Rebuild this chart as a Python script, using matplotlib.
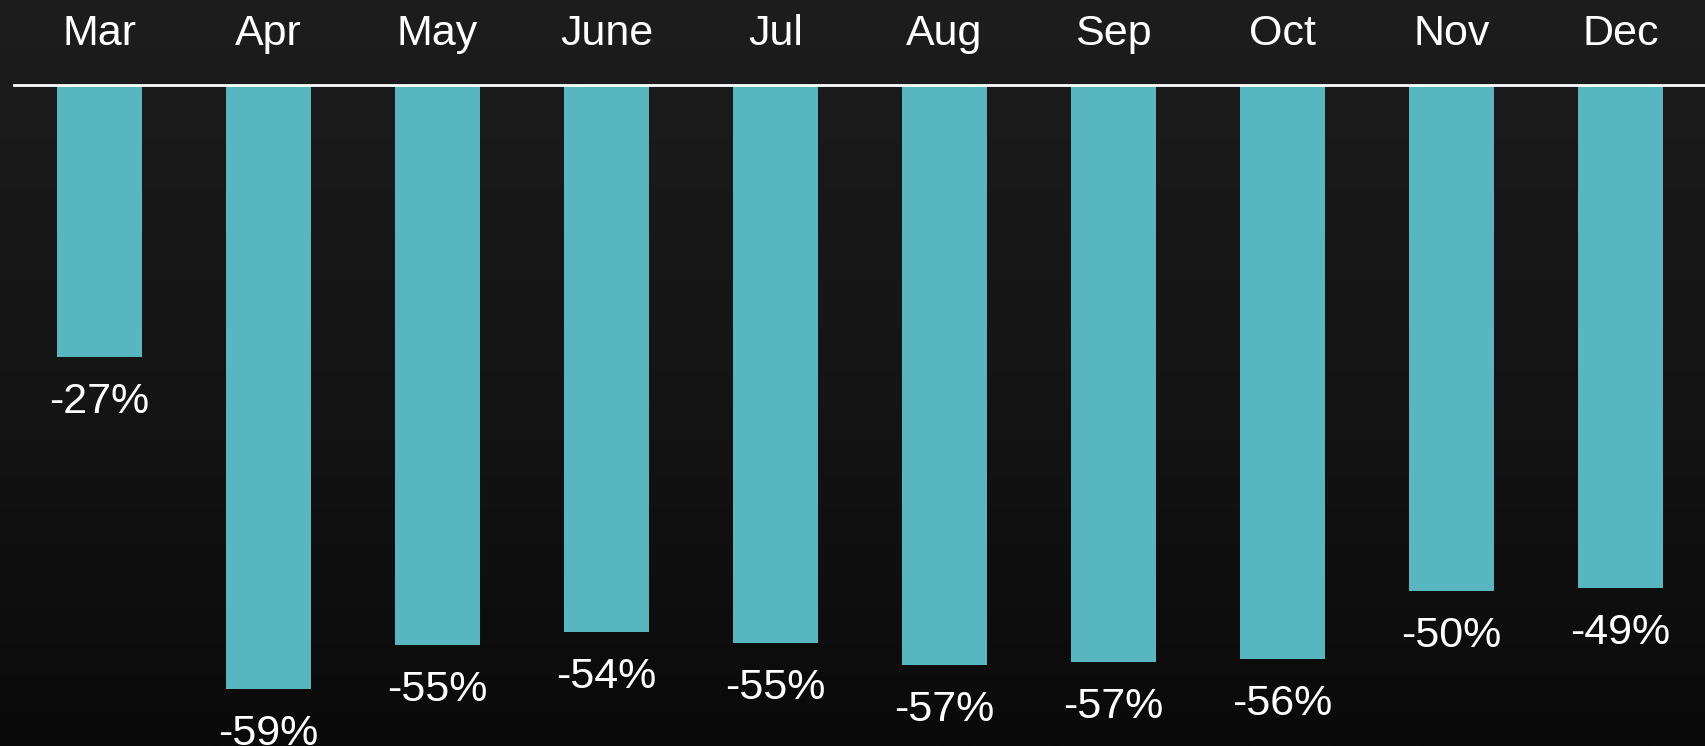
import numpy as np
import matplotlib
matplotlib.use('Agg')
import matplotlib.pyplot as plt
from matplotlib.colors import LinearSegmentedColormap

# change vs previous year, %
months = ['Mar', 'Apr', 'May', 'June', 'Jul', 'Aug', 'Sep', 'Oct', 'Nov', 'Dec']
change = [-26.7, -59.2, -54.9, -53.6, -54.7, -56.9, -56.6, -56.3, -49.6, -49.3]

plt.rcParams['font.family'] = ['Liberation Sans', 'DejaVu Sans']

fig = plt.figure(figsize=(17.06, 7.46), dpi=100)

# dark background, a bit lighter at the top
bg = fig.add_axes([0, 0, 1, 1])
bg.axis('off')
cmap = LinearSegmentedColormap.from_list('bg', ['#1d1d1d', '#151515', '#0a0a0a'])
bg.imshow(np.linspace(0, 1, 256).reshape(-1, 1), aspect='auto', cmap=cmap,
          extent=[0, 1, 0, 1])

ax = fig.add_axes([0, 0, 1, 1])
ax.patch.set_alpha(0)
ax.axis('off')

x = np.arange(len(months))
ax.bar(x, change, width=0.503, color='#58B6C0', zorder=2)
ax.axhline(0, xmin=14 / 1706, xmax=1, color='white', lw=2, zorder=3)

ax.set_xlim(-99.5 / 169, (1706 - 99.5) / 169)
ax.set_ylim(-(746 - 85) / 10.2, 85 / 10.2)

for i, m in enumerate(months):
    ax.text(i, 5.0, m, ha='center', va='center', color='white', fontsize=31)
for i, v in enumerate(change):
    ax.text(i, v - 4.4, f"{v:.0f}%", ha='center', va='center', color='white', fontsize=31)

fig.savefig('out.png', dpi=100)
